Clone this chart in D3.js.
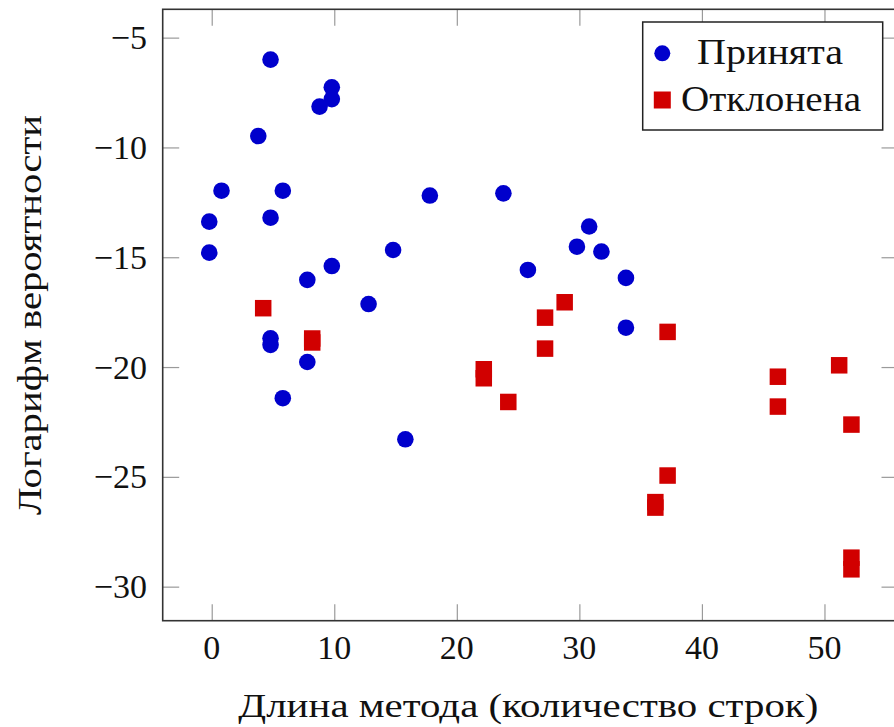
<!DOCTYPE html>
<html><head><meta charset="utf-8">
<script src="https://cdn.jsdelivr.net/npm/d3@7"></script>
<style>body{margin:0;background:#fff}svg{display:block}svg text{font-family:"Liberation Serif","Times New Roman",serif}</style>
</head><body>
<svg id="c" width="894" height="727"></svg>
<script>
// ---- data ----
const acceptedX = [4.8, 9.8, 9.8, 8.8, 3.8, 0.8, 5.8, 17.8, -0.2, 4.8, -0.2, 14.8, 9.8, 7.8, 12.8, 4.8, 4.8, 7.8, 5.8, 15.8, 23.8, 30.8, 29.8, 31.8, 25.8, 33.8, 33.8];
const acceptedY = [-6.0, -7.26, -7.8, -8.14, -9.48, -11.97, -11.97, -12.19, -13.38, -13.2, -14.79, -14.67, -15.4, -16.03, -17.13, -18.69, -18.99, -19.77, -21.42, -23.29, -12.09, -13.6, -14.52, -14.74, -15.58, -15.94, -18.21];
const rejectedX = [4.2, 8.2, 8.2, 22.2, 22.2, 24.2, 27.2, 27.2, 28.8, 37.2, 37.2, 36.2, 36.2, 46.2, 46.2, 51.2, 52.2, 52.2, 52.2];
const rejectedY = [-17.32, -18.7, -18.88, -20.1, -20.51, -21.59, -17.75, -19.16, -17.05, -18.4, -24.94, -26.15, -26.4, -20.44, -21.8, -19.92, -22.62, -28.68, -29.21];
const xTicks = [0, 10, 20, 30, 40, 50];
const yTicks = [-5, -10, -15, -20, -25, -30];
const seriesNames = ["Принята", "Отклонена"];
const xTitle = "Длина метода (количество строк)";
const yTitle = "Логарифм вероятности";

// ---- layout ----
const L = 162.7, R = 898, T = 9.3, B = 620.7;
const font = '"Liberation Serif", "Times New Roman", serif';
const blue = "#0000cc", red = "#d10000";
const svg = d3.select("#c");
const x = d3.scaleLinear().domain([-4, 56]).range([L, R]);
const y = d3.scaleLinear().domain([-31.55, -3.71]).range([B, T]);
const tickLen = 16.5;

// ticks (inside, all four sides)
const axB = d3.axisBottom(x).tickValues(xTicks).tickSize(-tickLen).tickFormat("");
const axT = d3.axisTop(x).tickValues(xTicks).tickSize(-tickLen).tickFormat("");
const axL = d3.axisLeft(y).tickValues(yTicks).tickSize(-tickLen).tickFormat("");
const axR = d3.axisRight(y).tickValues(yTicks).tickSize(-tickLen).tickFormat("");
[[axB, `translate(0,${B})`], [axT, `translate(0,${T})`], [axL, `translate(${L},0)`], [axR, `translate(${R},0)`]].forEach(([a, t]) => {
  const g = svg.append("g").attr("transform", t).call(a);
  g.select(".domain").remove();
  g.selectAll(".tick line").attr("stroke", "#9a9a9a").attr("stroke-width", 1.2);
});

// tick labels
svg.append("g").selectAll("text").data(xTicks).join("text")
  .attr("x", d => x(d)).attr("y", 659).attr("text-anchor", "middle")
  .style("font-family", font).attr("font-size", 34).attr("fill", "#111")
  .text(d => d);
svg.append("g").selectAll("text").data(yTicks).join("text")
  .attr("x", 147).attr("y", d => y(d) + 11.5).attr("text-anchor", "end")
  .style("font-family", font).attr("font-size", 34).attr("fill", "#111")
  .text(d => "\u2212" + Math.abs(d));

// titles
svg.append("text").attr("x", (L + R) / 2 - 2).attr("y", 717).attr("text-anchor", "middle")
  .style("font-family", font).attr("font-size", 34).attr("fill", "#111")
  .attr("textLength", 580).attr("lengthAdjust", "spacingAndGlyphs")
  .text(xTitle);
svg.append("text").attr("transform", `translate(41,${(T + B) / 2}) rotate(-90)`)
  .attr("text-anchor", "middle")
  .style("font-family", font).attr("font-size", 34).attr("fill", "#111")
  .attr("textLength", 400).attr("lengthAdjust", "spacingAndGlyphs")
  .text(yTitle);

// marks
const plot = svg.append("g");
const acc = acceptedX.map((v, i) => ({x: v, y: acceptedY[i]}));
const rej = rejectedX.map((v, i) => ({x: v, y: rejectedY[i]}));
const s = 16.5;
plot.selectAll("circle.a").data(acc).join("circle")
  .attr("cx", d => x(d.x)).attr("cy", d => y(d.y)).attr("r", 8.3).attr("fill", blue);
plot.selectAll("rect.r").data(rej).join("rect")
  .attr("x", d => x(d.x) - s / 2).attr("y", d => y(d.y) - s / 2)
  .attr("width", s).attr("height", s).attr("fill", red);

// frame
svg.append("rect").attr("x", L).attr("y", T).attr("width", R - L).attr("height", B - T)
  .attr("fill", "none").attr("stroke", "#333").attr("stroke-width", 1.6);

// legend
const lg = svg.append("g");
lg.append("rect").attr("x", 642.7).attr("y", 22).attr("width", 240).attr("height", 108)
  .attr("fill", "#fff").attr("stroke", "#222").attr("stroke-width", 1.5);
lg.append("circle").attr("cx", 662.3).attr("cy", 53.3).attr("r", 8).attr("fill", blue);
lg.append("rect").attr("x", 662.3 - 8.5).attr("y", 100 - 8.5).attr("width", 17).attr("height", 17).attr("fill", red);
lg.append("text").attr("x", 697).attr("y", 63.5).style("font-family", font).attr("font-size", 35)
  .attr("fill", "#111").attr("textLength", 146).attr("lengthAdjust", "spacingAndGlyphs").text(seriesNames[0]);
lg.append("text").attr("x", 681).attr("y", 110.5).style("font-family", font).attr("font-size", 35)
  .attr("fill", "#111").attr("textLength", 180).attr("lengthAdjust", "spacingAndGlyphs").text(seriesNames[1]);
</script>
</body></html>
